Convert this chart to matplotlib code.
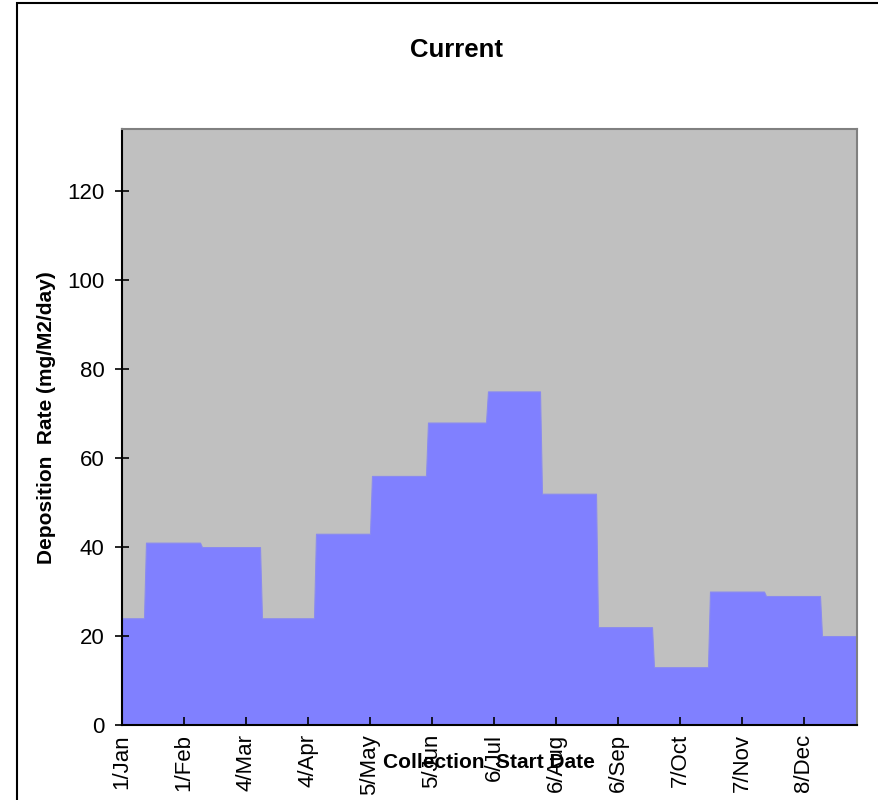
import matplotlib
matplotlib.use("Agg")
import matplotlib.pyplot as plt
import matplotlib.dates as mdates
from matplotlib.patches import Rectangle
import datetime as dt

plt.rcParams['font.family'] = ['Liberation Sans', 'DejaVu Sans']

# Collection start dates and deposition rates
start_dates = ["2007-01-01", "2007-01-13", "2007-02-10", "2007-03-12", "2007-04-08",
               "2007-05-06", "2007-06-03", "2007-07-03", "2007-07-30", "2007-08-27",
               "2007-09-24", "2007-10-22", "2007-11-19", "2007-12-17"]
values = [24, 41, 40, 24, 43, 56, 68, 75, 52, 22, 13, 30, 29, 20]
end_date = "2008-01-03"
tick_labels = ["1/Jan", "1/Feb", "4/Mar", "4/Apr", "5/May", "5/Jun", "6/Jul",
               "6/Aug", "6/Sep", "7/Oct", "7/Nov", "8/Dec"]

starts = [dt.datetime.fromisoformat(s) for s in start_dates]
end = dt.datetime.fromisoformat(end_date) + dt.timedelta(hours=12)
xs, ys = [], []
for i, (s, v) in enumerate(zip(starts, values)):
    e = starts[i + 1] - dt.timedelta(days=1) if i + 1 < len(starts) else end
    xs += [s, e]
    ys += [v, v]

fig = plt.figure(figsize=(8.79, 8.0), dpi=100)
fig.patches.append(Rectangle((17/879, -0.01), 1.0, 1 - 3/800 + 0.01, transform=fig.transFigure,
                             fill=False, edgecolor='black', linewidth=1.5))
ax = fig.add_axes([122/879, 1 - 725/800, (857 - 122)/879, (725 - 129)/800])
ax.set_facecolor('#C0C0C0')
ax.fill_between(xs, ys, 0, color='#8080FF', linewidth=0.8, edgecolor='#8A8AF0')

ax.set_ylim(0, 134)
ax.set_yticks(range(0, 121, 20))
ax.set_xlim(mdates.date2num(starts[0]), mdates.date2num(end))
tick_dates = [starts[0] + dt.timedelta(days=31 * k) for k in range(len(tick_labels))]
ax.set_xticks(mdates.date2num(tick_dates))
ax.set_xticklabels(tick_labels, rotation=90, va='top', ha='center')

for sp in ['top', 'right']:
    ax.spines[sp].set_color('#808080')
    ax.spines[sp].set_linewidth(1.5)
for sp in ['left', 'bottom']:
    ax.spines[sp].set_color('black')
    ax.spines[sp].set_linewidth(1.5)

ax.tick_params(axis='y', direction='inout', length=10, width=1.2, labelsize=16, pad=7.5)
ax.tick_params(axis='x', direction='in', length=5.5, width=1.2, labelsize=16, pad=6.5)

fig.text(47/879, 1 - 418/800, "Deposition  Rate (mg/M2/day)", rotation=90, fontsize=15,
         fontweight='bold', ha='center', va='center')
fig.text(489/879, 1 - 763/800, "Collection  Start Date", fontsize=15, fontweight='bold',
         ha='center', va='center')
fig.text(457/879, 1 - 50/800, "Current", fontsize=18.5, fontweight='bold', ha='center', va='center')

fig.savefig("out.png", dpi=100)
